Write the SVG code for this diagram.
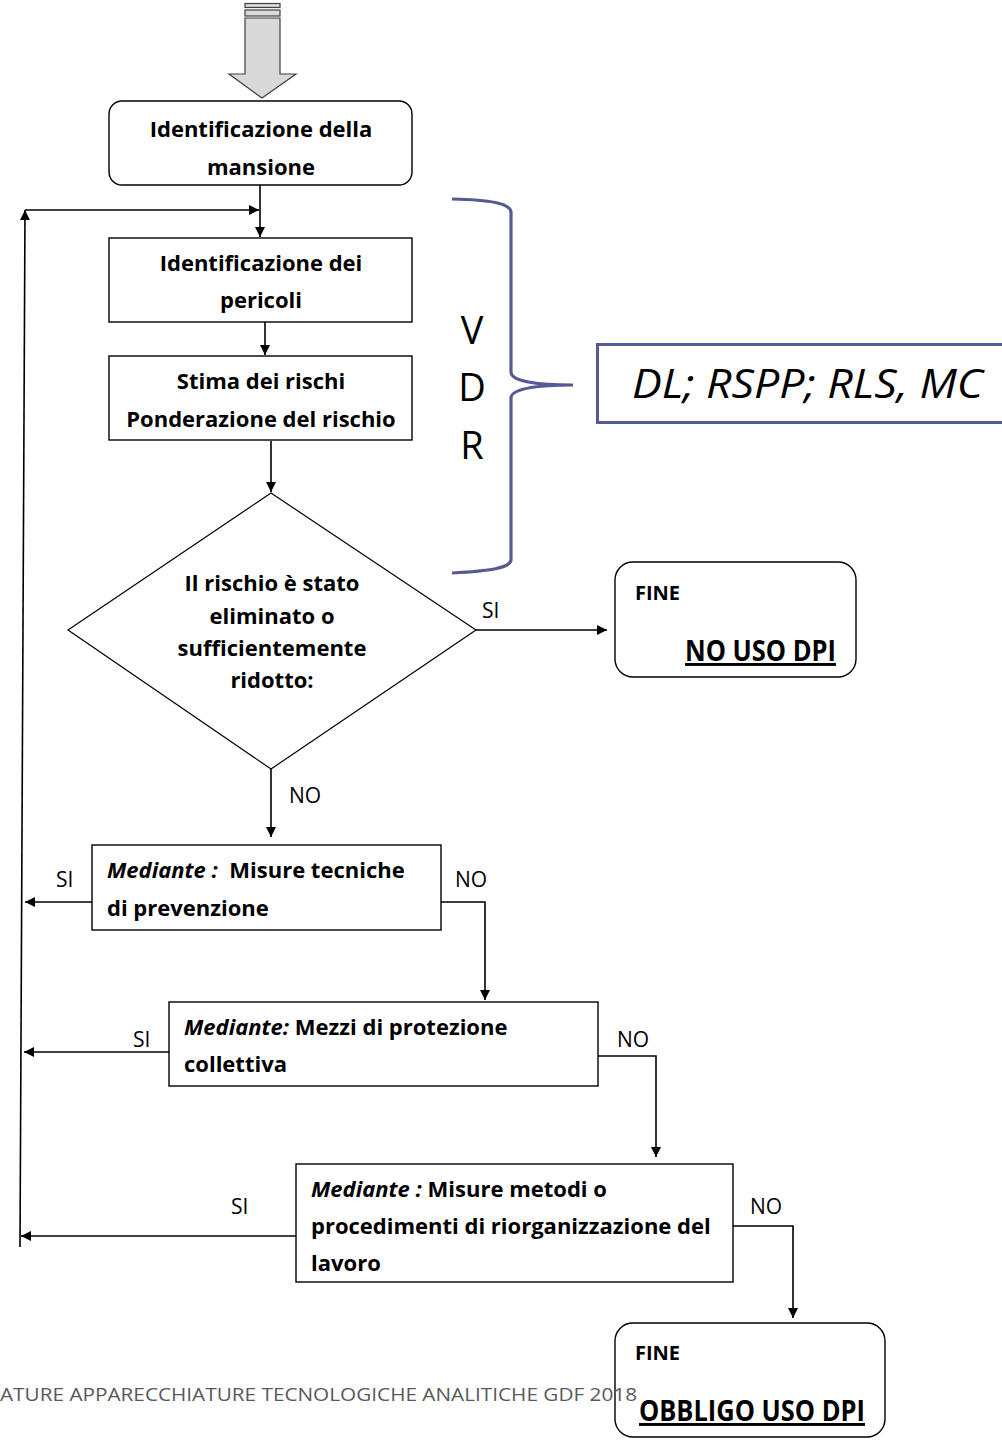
<svg xmlns="http://www.w3.org/2000/svg" width="1002" height="1440" viewBox="0 0 1002 1440">
<style>
  .box { fill: #fff; stroke: #000; stroke-width: 1.4; }
  .t { font-family: "Open Sans", "Liberation Sans", sans-serif; font-weight: bold; font-size: 22px; fill: #000; }
  .c { text-anchor: middle; }
  .lbl { font-family: "Open Sans", "Liberation Sans", sans-serif; font-size: 21px; fill: #000; }
  .con { fill: none; stroke: #000; stroke-width: 1.6; }
  .blue { fill: none; stroke: #555a94; stroke-width: 3.2; }
  .it { font-style: italic; }
  .ul { text-decoration: underline; }
  .fine { font-size: 20px; }
  .end { font-size: 29px; }
  .big { font-family: "Open Sans", "Liberation Sans", sans-serif; font-size: 38px; fill: #000; }
  .who { font-size: 41px; font-style: italic; }
</style>
<defs>
  <marker id="ah" viewBox="0 0 10 10" refX="10" refY="5" markerWidth="12" markerHeight="10" markerUnits="userSpaceOnUse" orient="auto">
    <path d="M0,0 L10,5 L0,10 z" fill="#000"/>
  </marker>
</defs>

<!-- top block arrow -->
<g id="start-arrow">
  <rect x="245" y="3.5" width="35" height="4" fill="#d9d9d9" stroke="#404040" stroke-width="1.2"/>
  <rect x="245" y="10" width="35" height="6" fill="#d9d9d9" stroke="#404040" stroke-width="1.2"/>
  <path d="M245,18 L280,18 L280,74 L296,74 L262,98 L229,74 L245,74 Z" fill="#d9d9d9" stroke="#404040" stroke-width="1.2"/>
</g>

<g id="connectors">
  <line class="con" x1="260" y1="185" x2="260" y2="237" marker-end="url(#ah)"/>
  <line class="con" x1="20" y1="1247" x2="25" y2="210" marker-end="url(#ah)"/>
  <line class="con" x1="25" y1="210" x2="259" y2="210" marker-end="url(#ah)"/>
  <line class="con" x1="265" y1="322" x2="265" y2="355" marker-end="url(#ah)"/>
  <line class="con" x1="271" y1="441" x2="271" y2="492" marker-end="url(#ah)"/>
  <line class="con" x1="476" y1="630" x2="607" y2="630" marker-end="url(#ah)"/>
  <line class="con" x1="271" y1="769" x2="271" y2="837" marker-end="url(#ah)"/>
  <line class="con" x1="92" y1="902" x2="25" y2="902" marker-end="url(#ah)"/>
  <polyline class="con" points="441,902 485,902 485,1000" marker-end="url(#ah)"/>
  <line class="con" x1="169" y1="1052" x2="24" y2="1052" marker-end="url(#ah)"/>
  <polyline class="con" points="598,1056 656,1056 656,1157" marker-end="url(#ah)"/>
  <line class="con" x1="296" y1="1236" x2="21" y2="1236" marker-end="url(#ah)"/>
  <polyline class="con" points="733,1226 793,1226 793,1318" marker-end="url(#ah)"/>
  <text class="lbl" x="482" y="618">SI</text>
  <text class="lbl" x="289" y="803">NO</text>
  <text class="lbl" x="56" y="887">SI</text>
  <text class="lbl" x="455" y="887">NO</text>
  <text class="lbl" x="133" y="1047">SI</text>
  <text class="lbl" x="617" y="1047">NO</text>
  <text class="lbl" x="231" y="1214">SI</text>
  <text class="lbl" x="750" y="1214">NO</text>
</g>

<g id="n-mansione">
  <rect class="box" x="109" y="101" width="303" height="84" rx="13"/>
  <text class="t c" x="261" y="137">Identificazione della</text>
  <text class="t c" x="261" y="175">mansione</text>
</g>

<g id="n-pericoli">
  <rect class="box" x="109" y="238" width="303" height="84"/>
  <text class="t c" x="261" y="271">Identificazione dei</text>
  <text class="t c" x="261" y="308">pericoli</text>
</g>

<g id="n-stima">
  <rect class="box" x="109" y="356" width="303" height="84"/>
  <text class="t c" x="261" y="389">Stima dei rischi</text>
  <text class="t c" x="261" y="427">Ponderazione del rischio</text>
</g>

<g id="n-decisione">
  <polygon points="271,493 476,630 271,769 68,630" fill="#fff" stroke="#000" stroke-width="1.2"/>
  <text class="t c" x="272" y="591">Il rischio è stato</text>
  <text class="t c" x="272" y="624">eliminato o</text>
  <text class="t c" x="272" y="656">sufficientemente</text>
  <text class="t c" x="272" y="688">ridotto:</text>
</g>

<g id="n-vdr">
  <path class="blue" d="M452,199 C490,200 510,203 511,212 L511,372 C511,382 540,385 573,385 C540,385 511,388 511,398 L511,560 C510,568 490,571 452,573"/>
  <text class="big" x="472" y="344" text-anchor="middle">V</text>
  <text class="big" x="472" y="401" text-anchor="middle">D</text>
  <text class="big" x="472" y="459" text-anchor="middle">R</text>
</g>

<g id="n-attori">
  <rect x="597.5" y="344.5" width="410" height="78" fill="#fff" stroke="#555a94" stroke-width="3"/>
  <text class="big who" x="632" y="398" textLength="351" lengthAdjust="spacingAndGlyphs">DL; RSPP; RLS, MC</text>
</g>

<g id="n-fine1">
  <rect class="box" x="615" y="562" width="241" height="115" rx="18"/>
  <text class="t fine" x="635" y="600">FINE</text>
  <text class="t ul end" x="685" y="661" textLength="151" lengthAdjust="spacingAndGlyphs">NO USO DPI</text>
</g>

<g id="n-misure-tecniche">
  <rect class="box" x="92" y="845" width="349" height="85"/>
  <text class="t" x="107" y="878" xml:space="preserve"><tspan class="it">Mediante :</tspan>  Misure tecniche</text>
  <text class="t" x="107" y="916">di prevenzione</text>
</g>

<g id="n-protezione-collettiva">
  <rect class="box" x="169" y="1002" width="429" height="84"/>
  <text class="t" x="184" y="1035"><tspan class="it">Mediante:</tspan> Mezzi di protezione</text>
  <text class="t" x="184" y="1072">collettiva</text>
</g>

<g id="n-riorganizzazione">
  <rect class="box" x="296" y="1164" width="437" height="118"/>
  <text class="t" x="311" y="1197"><tspan class="it">Mediante :</tspan> Misure metodi o</text>
  <text class="t" x="311" y="1234">procedimenti di riorganizzazione del</text>
  <text class="t" x="311" y="1271">lavoro</text>
</g>

<g id="n-fine2">
  <rect class="box" x="615" y="1323" width="270" height="114" rx="18"/>
  <text class="t fine" x="635" y="1360">FINE</text>
  <text class="t ul end" x="639" y="1421" textLength="226" lengthAdjust="spacingAndGlyphs">OBBLIGO USO DPI</text>
</g>

<text id="footer" x="0" y="1401" font-family="'Open Sans', 'Liberation Sans', sans-serif" font-size="19" fill="#595959" textLength="637" lengthAdjust="spacingAndGlyphs">ATURE APPARECCHIATURE TECNOLOGICHE ANALITICHE GDF 2018</text>
</svg>
